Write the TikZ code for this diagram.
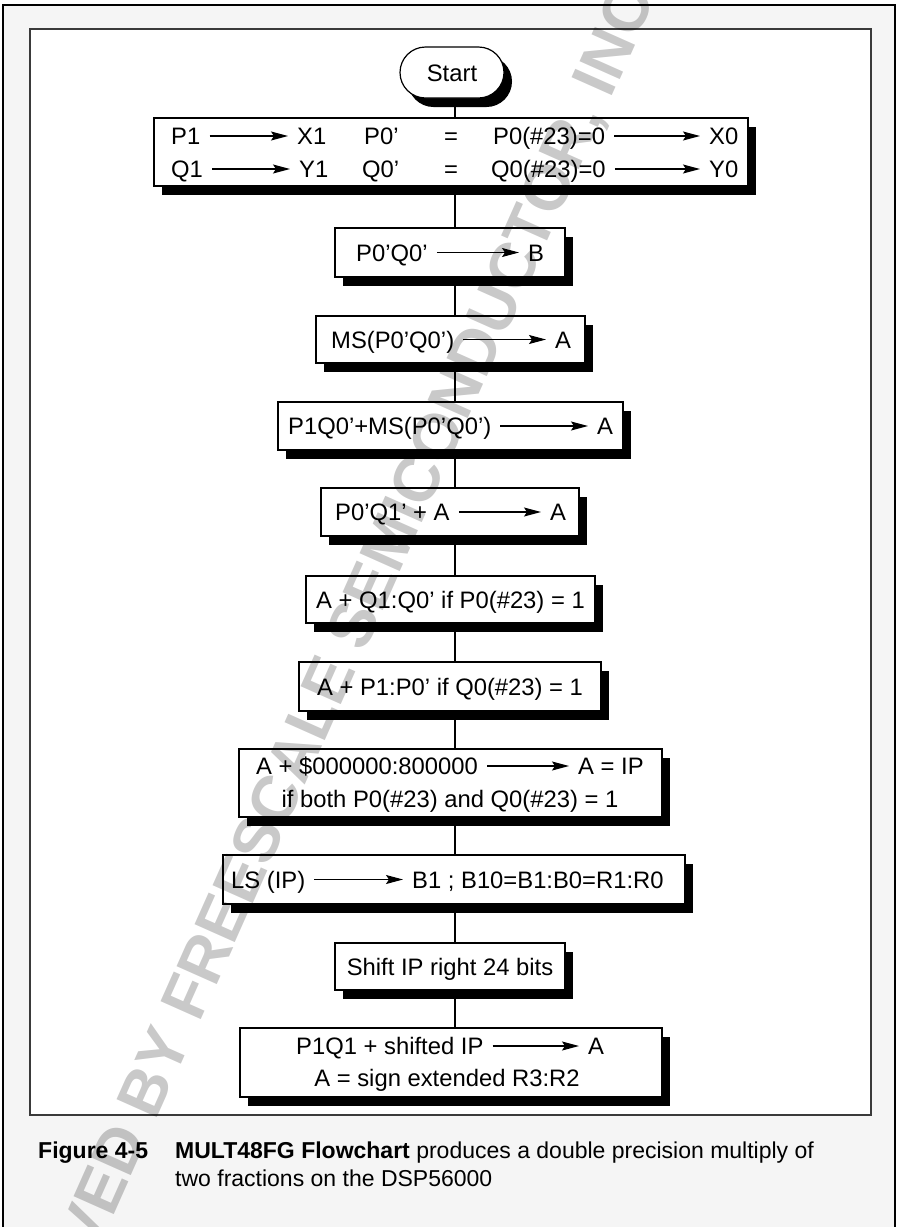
\documentclass[tikz,border=0pt]{standalone}
\usepackage{fontspec}
\setmainfont{Liberation Sans}
\usetikzlibrary{shapes.misc,shadows,arrows.meta}
\pgfdeclarelayer{bg}
\pgfdeclarelayer{mid}
\pgfsetlayers{bg,mid,main}
\definecolor{pagegray}{HTML}{F5F5F5}
\definecolor{framegray}{HTML}{3A3A3A}
\begin{document}
\begin{tikzpicture}[x=1pt,y=-1pt,
  box/.style={draw=black, line width=1.2pt, fill=white, inner sep=0pt,
    text height=17pt, text depth=0pt,
    font=\fontsize{23.8}{28}\selectfont,
    general shadow={fill=black, shadow xshift=8pt, shadow yshift=-9pt}},
  startbox/.style={box, rounded rectangle, minimum width=104pt, minimum height=51pt},
  txt/.style={inner sep=0pt, text height=17pt, text depth=0pt,
    font=\fontsize{23.8}{28}\selectfont},
  flowarrow/.style={line width=1.1pt, -{Stealth[length=17pt,width=9pt,inset=3pt]},
    shorten <=9pt, shorten >=9pt},
  link/.style={line width=2pt},
  captxt/.style={inner sep=0pt, anchor=base west, font=\fontsize{23}{27}\selectfont},
  wmark/.style={inner sep=0pt, anchor=base west, rotate=66, text=black, text opacity=0.21,
    font=\fontsize{64}{64}\selectfont\bfseries},
]
\useasboundingbox (0,0) rectangle (899,1227);

% frames
\begin{pgfonlayer}{bg}
  \fill[pagegray] (3,5) rectangle (895,1227);
  \draw[line width=2.2pt] (3,1227) -- (3,5) -- (895,5) -- (895,1227);
  \draw[framegray, line width=1.6pt, fill=white] (30,29) rectangle (871,1115);
\end{pgfonlayer}

\coordinate (spine) at (455,0);

% boxes
\node[startbox] (start) at (452,72.5) {Start};
\node[box, minimum width=594pt, minimum height=68pt] (b1) at (451,152) {};
\node[box, minimum width=230pt, minimum height=49pt] (b2) at (450,252.5) {};
\node[box, minimum width=269pt, minimum height=47pt] (b3) at (450.5,339.5) {};
\node[box, minimum width=345pt, minimum height=48pt] (b4) at (450.5,426) {};
\node[box, minimum width=258pt, minimum height=48pt] (b5) at (450,512) {};
\node[box, minimum width=289pt, minimum height=47pt] (b6) at (450.5,599.5) {A + Q1:Q0' if P0(\#23) = 1};
\node[box, minimum width=302pt, minimum height=49pt] (b7) at (450,686.5) {A + P1:P0' if Q0(\#23) = 1};
\node[box, minimum width=423pt, minimum height=68pt] (b8) at (450.5,783) {};
\node[box, minimum width=462pt, minimum height=49pt] (b9) at (454,879.5) {};
\node[box, minimum width=230pt, minimum height=47pt] (b10) at (450,966.5) {Shift IP right 24 bits};
\node[box, minimum width=422pt, minimum height=69pt] (b11) at (451,1062.5) {};

% connectors
\begin{pgfonlayer}{mid}
  \draw[link] (start.south -| spine) -- (b1.north -| spine);
  \draw[link] (b1.south -| spine) -- (b2.north -| spine);
  \draw[link] (b2.south -| spine) -- (b3.north -| spine);
  \draw[link] (b3.south -| spine) -- (b4.north -| spine);
  \draw[link] (b4.south -| spine) -- (b5.north -| spine);
  \draw[link] (b5.south -| spine) -- (b6.north -| spine);
  \draw[link] (b6.south -| spine) -- (b7.north -| spine);
  \draw[link] (b7.south -| spine) -- (b8.north -| spine);
  \draw[link] (b8.south -| spine) -- (b9.north -| spine);
  \draw[link] (b9.south -| spine) -- (b10.north -| spine);
  \draw[link] (b10.south -| spine) -- (b11.north -| spine);
\end{pgfonlayer}

% box 1
\node[txt, anchor=west] (r1a) at (171,136) {P1};
\node[txt, anchor=west] (r1b) at (297,136) {X1};
\node[txt, anchor=west] (r1c) at (364,136) {P0'};
\node[txt, anchor=west] (r1d) at (444,136) {=};
\node[txt, anchor=west] (r1e) at (493,136) {P0(\#23)=0};
\node[txt, anchor=west] (r1f) at (709,136) {X0};
\draw[flowarrow] (r1a) -- (r1b);
\draw[flowarrow] (r1e) -- (r1f);
\node[txt, anchor=west] (r2a) at (171,169) {Q1};
\node[txt, anchor=west] (r2b) at (299,169) {Y1};
\node[txt, anchor=west] (r2c) at (362,169) {Q0'};
\node[txt, anchor=west] (r2d) at (444,169) {=};
\node[txt, anchor=west] (r2e) at (491,169) {Q0(\#23)=0};
\node[txt, anchor=west] (r2f) at (709,169) {Y0};
\draw[flowarrow] (r2a) -- (r2b);
\draw[flowarrow] (r2e) -- (r2f);

% box 2
\node[txt, anchor=west] (t2a) at (356,252.5) {P0'Q0'};
\node[txt, anchor=west] (t2b) at (528,252.5) {B};
\draw[flowarrow] (t2a) -- (t2b);
% box 3
\node[txt, anchor=west] (t3a) at (331,339.5) {MS(P0'Q0')};
\node[txt, anchor=west] (t3b) at (555,339.5) {A};
\draw[flowarrow] (t3a) -- (t3b);
% box 4
\node[txt, anchor=west] (t4a) at (288,426) {P1Q0'+MS(P0'Q0')};
\node[txt, anchor=west] (t4b) at (597,426) {A};
\draw[flowarrow] (t4a) -- (t4b);
% box 5
\node[txt, anchor=west] (t5a) at (335,512) {P0'Q1' + A};
\node[txt, anchor=west] (t5b) at (550,512) {A};
\draw[flowarrow] (t5a) -- (t5b);
% box 8
\node[txt, anchor=west] (t8a) at (256,766) {A + \$000000:800000};
\node[txt, anchor=west] (t8b) at (578,766) {A = IP};
\draw[flowarrow] (t8a) -- (t8b);
\node[txt] (t8c) at (450,799) {if both P0(\#23) and Q0(\#23) = 1};
% box 9
\node[txt, anchor=west] (t9a) at (231,879.5) {LS (IP)};
\node[txt, anchor=west] (t9b) at (412,879.5) {B1 ; B10=B1:B0=R1:R0};
\draw[flowarrow] (t9a) -- (t9b);
% box 11
\node[txt, anchor=west] (t11a) at (296,1046) {P1Q1 + shifted IP};
\node[txt, anchor=west] (t11b) at (588,1046) {A};
\draw[flowarrow] (t11a) -- (t11b);
\node[txt] (t11c) at (447,1078) {A = sign extended R3:R2};

% caption
\node[captxt, font=\fontsize{23}{27}\selectfont\bfseries] (fig) at (38,1158) {Figure 4-5};
\node[captxt] (c1) at (175,1158) {\textbf{MULT48FG Flowchart} produces a double precision multiply of};
\node[captxt] (c2) at (175,1186) {two fractions on the DSP56000};

% watermark
\begin{scope}
  \clip (0,0) rectangle (899,1227);
  \node[wmark] (wm) at (95,1258) {VED BY FREESCALE SEMICONDUCTOR, INC};
\end{scope}
\end{tikzpicture}
\end{document}
